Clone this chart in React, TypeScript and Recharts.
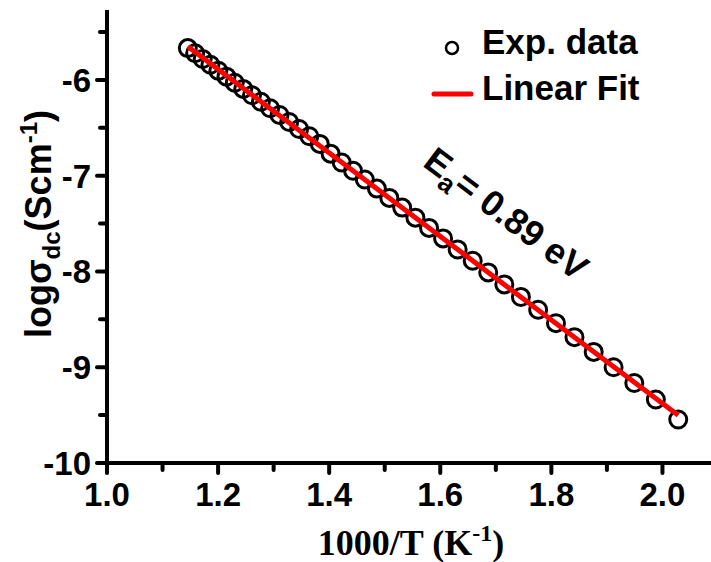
import { ComposedChart, Scatter, Line, XAxis, YAxis, Legend } from 'recharts'

// 1000/T values (K^-1) and log sigma_dc
const INV_T = [
  1.1455, 1.1587, 1.1723, 1.1862, 1.2005, 1.2151, 1.23, 1.2453, 1.261, 1.2771,
  1.2937, 1.3106, 1.328, 1.3459, 1.3643, 1.3831, 1.4025, 1.4225, 1.443, 1.4641,
  1.4859, 1.5083, 1.5314, 1.5552, 1.5798, 1.6051, 1.6313, 1.6584, 1.6863, 1.7153,
  1.7452, 1.7762, 1.8083, 1.8416, 1.8762, 1.912, 1.9493, 1.9881, 2.0284,
]
const LOG_SIGMA = [
  -5.668, -5.722, -5.782, -5.842, -5.905, -5.966, -6.03, -6.094, -6.16, -6.228,
  -6.296, -6.366, -6.44, -6.512, -6.588, -6.668, -6.77, -6.862, -6.948, -7.04,
  -7.135, -7.232, -7.333, -7.438, -7.545, -7.655, -7.77, -7.888, -8.01, -8.135,
  -8.266, -8.4, -8.54, -8.686, -8.84, -9.0, -9.165, -9.337, -9.546,
]
const FIT_X = [1.1455, 2.0284]
const FIT_Y = [-5.652, -9.501]

const X_TICKS = [1.0, 1.1, 1.2, 1.3, 1.4, 1.5, 1.6, 1.7, 1.8, 1.9, 2.0, 2.1]
const Y_TICKS = [-10, -9.5, -9, -8.5, -8, -7.5, -7, -6.5, -6, -5.5]

const expData = INV_T.map((x, i) => ({ x, y: LOG_SIGMA[i] }))
const fitData = FIT_X.map((x, i) => ({ x, y: FIT_Y[i] }))

const SANS = '"Liberation Sans", Arial, sans-serif'
const SERIF = '"Liberation Serif", "Times New Roman", serif'

const XTick = ({ x, y, payload }: any) => {
  const major = Math.round(payload.value * 10) % 2 === 0
  return (
    <g>
      <line x1={x} y1={y} x2={x} y2={y + (major ? 10 : 7)} stroke="#000" strokeWidth={4} strokeLinecap="round" />
      {major && (
        <text x={x} y={y + 43} textAnchor="middle" fontFamily={SANS} fontWeight="bold" fontSize={33} fill="#000">
          {payload.value.toFixed(1)}
        </text>
      )}
    </g>
  )
}

const YTick = ({ x, y, payload }: any) => {
  const major = Number.isInteger(payload.value)
  return (
    <g>
      <line x1={x} y1={y} x2={x - (major ? 10 : 7)} y2={y} stroke="#000" strokeWidth={4} strokeLinecap="round" />
      {major && (
        <text x={x - 16} y={y + 12} textAnchor="end" fontFamily={SANS} fontWeight="bold" fontSize={33} fill="#000">
          {payload.value}
        </text>
      )}
    </g>
  )
}

const Ring = ({ cx, cy }: any) => (
  <circle cx={cx} cy={cy} r={8.5} fill="none" stroke="#000" strokeWidth={3} />
)

const LegendBox = ({ payload }: any) => {
  const items = [...(payload || [])].sort((a: any) => (a.value === 'Exp. data' ? -1 : 1))
  return (
    <svg width={286} height={120}>
      {items.map((entry: any, i: number) => {
        const base = i === 0 ? 54 : 100
        return (
          <g key={entry.value}>
            {entry.value === 'Exp. data' ? (
              <circle cx={27} cy={48} r={6} fill="none" stroke="#000" strokeWidth={2.5} />
            ) : (
              <line x1={9} y1={94} x2={46} y2={94} stroke="#ff0000" strokeWidth={5} strokeLinecap="round" />
            )}
            <text x={57} y={base} fontFamily={SANS} fontWeight="bold" fontSize={35} fill="#000">
              {entry.value}
            </text>
          </g>
        )
      })}
    </svg>
  )
}

export default function App() {
  return (
    <div style={{ position: 'fixed', left: 0, top: 0, width: 711, height: 562, overflow: 'hidden', background: '#fff' }}>
      <ComposedChart width={718} height={562} margin={{ top: 10, right: 0, left: 0, bottom: 0 }}>
        <XAxis
          dataKey="x"
          type="number"
          domain={[1.0, 2.1]}
          ticks={X_TICKS}
          interval={0}
          height={99}
          tickSize={0}
          tickMargin={0}
          tickLine={false}
          tick={<XTick />}
          axisLine={{ stroke: '#000', strokeWidth: 4 }}
          allowDataOverflow
        />
        <XAxis
          xAxisId="top"
          orientation="top"
          dataKey="x"
          type="number"
          domain={[1.0, 2.1]}
          height={0}
          tick={false}
          tickLine={false}
          axisLine={{ stroke: '#000', strokeWidth: 4 }}
          allowDataOverflow
        />
        <YAxis
          dataKey="y"
          type="number"
          domain={[-10, -5.27]}
          ticks={Y_TICKS}
          interval={0}
          width={107}
          tickSize={0}
          tickMargin={0}
          tickLine={false}
          tick={<YTick />}
          axisLine={{ stroke: '#000', strokeWidth: 4 }}
          allowDataOverflow
        />
        <Legend
          layout="vertical"
          align="center"
          verticalAlign="middle"
          content={<LegendBox />}
          wrapperStyle={{ left: 425, top: 0, width: 286, height: 120 }}
        />
        <Scatter name="Exp. data" data={expData} dataKey="y" shape={<Ring />} legendType="circle" isAnimationActive={false} />
        <Line
          name="Linear Fit"
          data={fitData}
          dataKey="y"
          stroke="#ff0000"
          strokeWidth={5}
          dot={false}
          activeDot={false}
          legendType="line"
          isAnimationActive={false}
          {...({ zIndex: 700 } as any)}
        />
        <g transform="translate(506,214) rotate(37)">
          <text x={0} y={12} textAnchor="middle" fontFamily={SANS} fontWeight="bold" fontSize={36} fill="#000">
            E<tspan fontSize={26} dy={8}>a</tspan>
            <tspan dy={-8}>= 0.89 eV</tspan>
          </text>
        </g>
        <text transform="translate(51,224) rotate(-90)" textAnchor="middle" fontFamily={SANS} fontWeight="bold" fontSize={36} fill="#000">
          logσ<tspan fontSize={24} dy={9}>dc</tspan>
          <tspan dy={-9}>(Scm</tspan>
          <tspan fontSize={24} dy={-14}>-1</tspan>
          <tspan dy={14}>)</tspan>
        </text>
        <text x={411} y={555} textAnchor="middle" fontFamily={SERIF} fontWeight="bold" fontSize={36} fill="#000">
          1000/T (K<tspan fontSize={24} dy={-14}>-1</tspan>
          <tspan dy={14}>)</tspan>
        </text>
      </ComposedChart>
    </div>
  )
}
